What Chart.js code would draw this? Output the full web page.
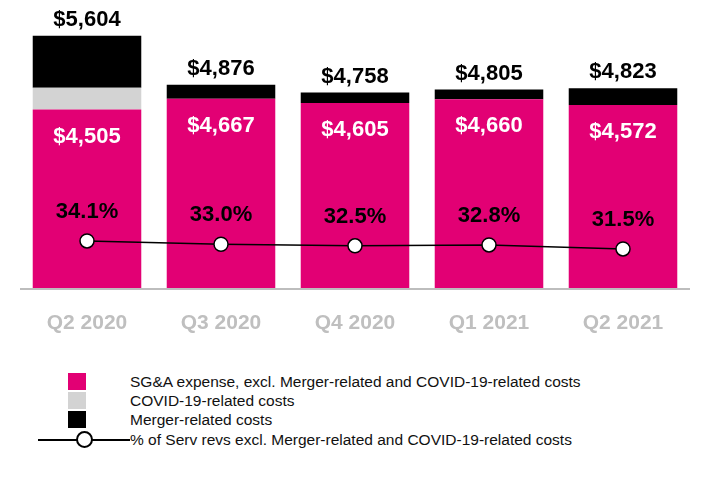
<!DOCTYPE html>
<html>
<head>
<meta charset="utf-8">
<script src="https://cdn.jsdelivr.net/npm/chart.js@4/dist/chart.umd.min.js"></script>
<style>
  body { margin: 0; background: #fff; font-family: "Liberation Sans", Arial, sans-serif; }
  #wrap { position: relative; width: 710px; height: 480px; }
  #c { position: absolute; left: 0; top: 0; }
  .legend { position: absolute; left: 0; top: 372px; font-size: 15.5px; color: #111; }
  .row { position: absolute; left: 0; height: 19px; width: 700px; white-space: nowrap; }
  .sw { position: absolute; left: 68px; top: 1px; width: 18px; height: 17px; }
  .txt { position: absolute; left: 130px; top: 0; line-height: 19px; }
  .ln { position: absolute; left: 38px; top: 9px; width: 92px; height: 2px; background: #000; }
  .dot { position: absolute; left: 76px; top: 2px; width: 14px; height: 14px; border: 2px solid #000; border-radius: 50%; background: #fff; box-sizing: border-box; width: 17px; height: 17px; top: 1px; }
</style>
</head>
<body>
<div id="wrap">
  <canvas id="c" width="710" height="350" style="width:710px;height:350px"></canvas>
  <div class="legend">
    <div class="row" style="top:0px"><div class="sw" style="background:#e20074"></div><div class="txt">SG&amp;A expense, excl. Merger-related and COVID-19-related costs</div></div>
    <div class="row" style="top:19px"><div class="sw" style="background:#d3d3d3"></div><div class="txt">COVID-19-related costs</div></div>
    <div class="row" style="top:38px"><div class="sw" style="background:#000"></div><div class="txt">Merger-related costs</div></div>
    <div class="row" style="top:58px"><div class="ln"></div><div class="dot"></div><div class="txt">% of Serv revs excl. Merger-related and COVID-19-related costs</div></div>
  </div>
</div>
<script>
const quarters = ["Q2 2020", "Q3 2020", "Q4 2020", "Q1 2021", "Q2 2021"];
const sgaCore = [4505, 4667, 4605, 4660, 4572];
const covidCosts = [324, 0, 0, 0, 0];
const mergerCosts = [775, 209, 153, 145, 251];
const totals = [5604, 4876, 4758, 4805, 4823];
const pctOfRevs = [34.1, 33.0, 32.5, 32.8, 31.5];

const fmt = v => "$" + v.toLocaleString("en-US");

const labelPlugin = {
  id: "labels",
  afterDatasetsDraw(chart) {
    const ctx = chart.ctx;
    const x = chart.scales.x, y = chart.scales.y, y1 = chart.scales.y1;
    const area = chart.chartArea;
    ctx.save();
    // baseline
    ctx.strokeStyle = "#bdbdbd";
    ctx.lineWidth = 2;
    ctx.beginPath();
    ctx.moveTo(area.left, area.bottom + 1);
    ctx.lineTo(area.right, area.bottom + 1);
    ctx.stroke();
    ctx.textAlign = "center";
    quarters.forEach((q, i) => {
      const cx = x.getPixelForValue(i);
      ctx.font = "bold 22px 'Liberation Sans', Arial";
      ctx.fillStyle = "#000";
      ctx.textBaseline = "bottom";
      ctx.fillText(fmt(totals[i]), cx, y.getPixelForValue(totals[i]) - 5);
      ctx.fillStyle = "#fff";
      ctx.textBaseline = "middle";
      ctx.fillText(fmt(sgaCore[i]), cx, y.getPixelForValue(sgaCore[i]) + 27);
      ctx.fillStyle = "#000";
      ctx.fillText(pctOfRevs[i].toFixed(1) + "%", cx, y1.getPixelForValue(pctOfRevs[i]) - 29);
      ctx.fillStyle = "#bfbfbf";
      ctx.font = "bold 21px 'Liberation Sans', Arial";
      ctx.fillText(q, cx, area.bottom + 35);
    });
    ctx.restore();
  }
};

new Chart(document.getElementById("c"), {
  data: {
    labels: quarters,
    datasets: [
      { type: "line", data: pctOfRevs, yAxisID: "y1", borderColor: "#000", borderWidth: 1.5,
        pointRadius: 7, pointBackgroundColor: "#fff", pointBorderColor: "#000", pointBorderWidth: 1.5, order: 0 },
      { type: "bar", data: sgaCore, backgroundColor: "#e20074", stack: "s", order: 1 },
      { type: "bar", data: covidCosts, backgroundColor: "#d3d3d3", stack: "s", order: 1 },
      { type: "bar", data: mergerCosts, backgroundColor: "#000", stack: "s", order: 1 }
    ]
  },
  options: {
    responsive: false,
    animation: false,
    layout: { padding: { left: 20, right: 20, top: 30, bottom: 62 } },
    plugins: { legend: { display: false }, tooltip: { enabled: false } },
    datasets: { bar: { barPercentage: 0.81, categoryPercentage: 1 } },
    scales: {
      x: { display: false, stacked: true },
      y: { display: false, stacked: true, min: 1850, max: 5690 },
      y1: { display: false, min: 18.8, max: 102.6 }
    }
  },
  plugins: [labelPlugin]
});
</script>
</body>
</html>
